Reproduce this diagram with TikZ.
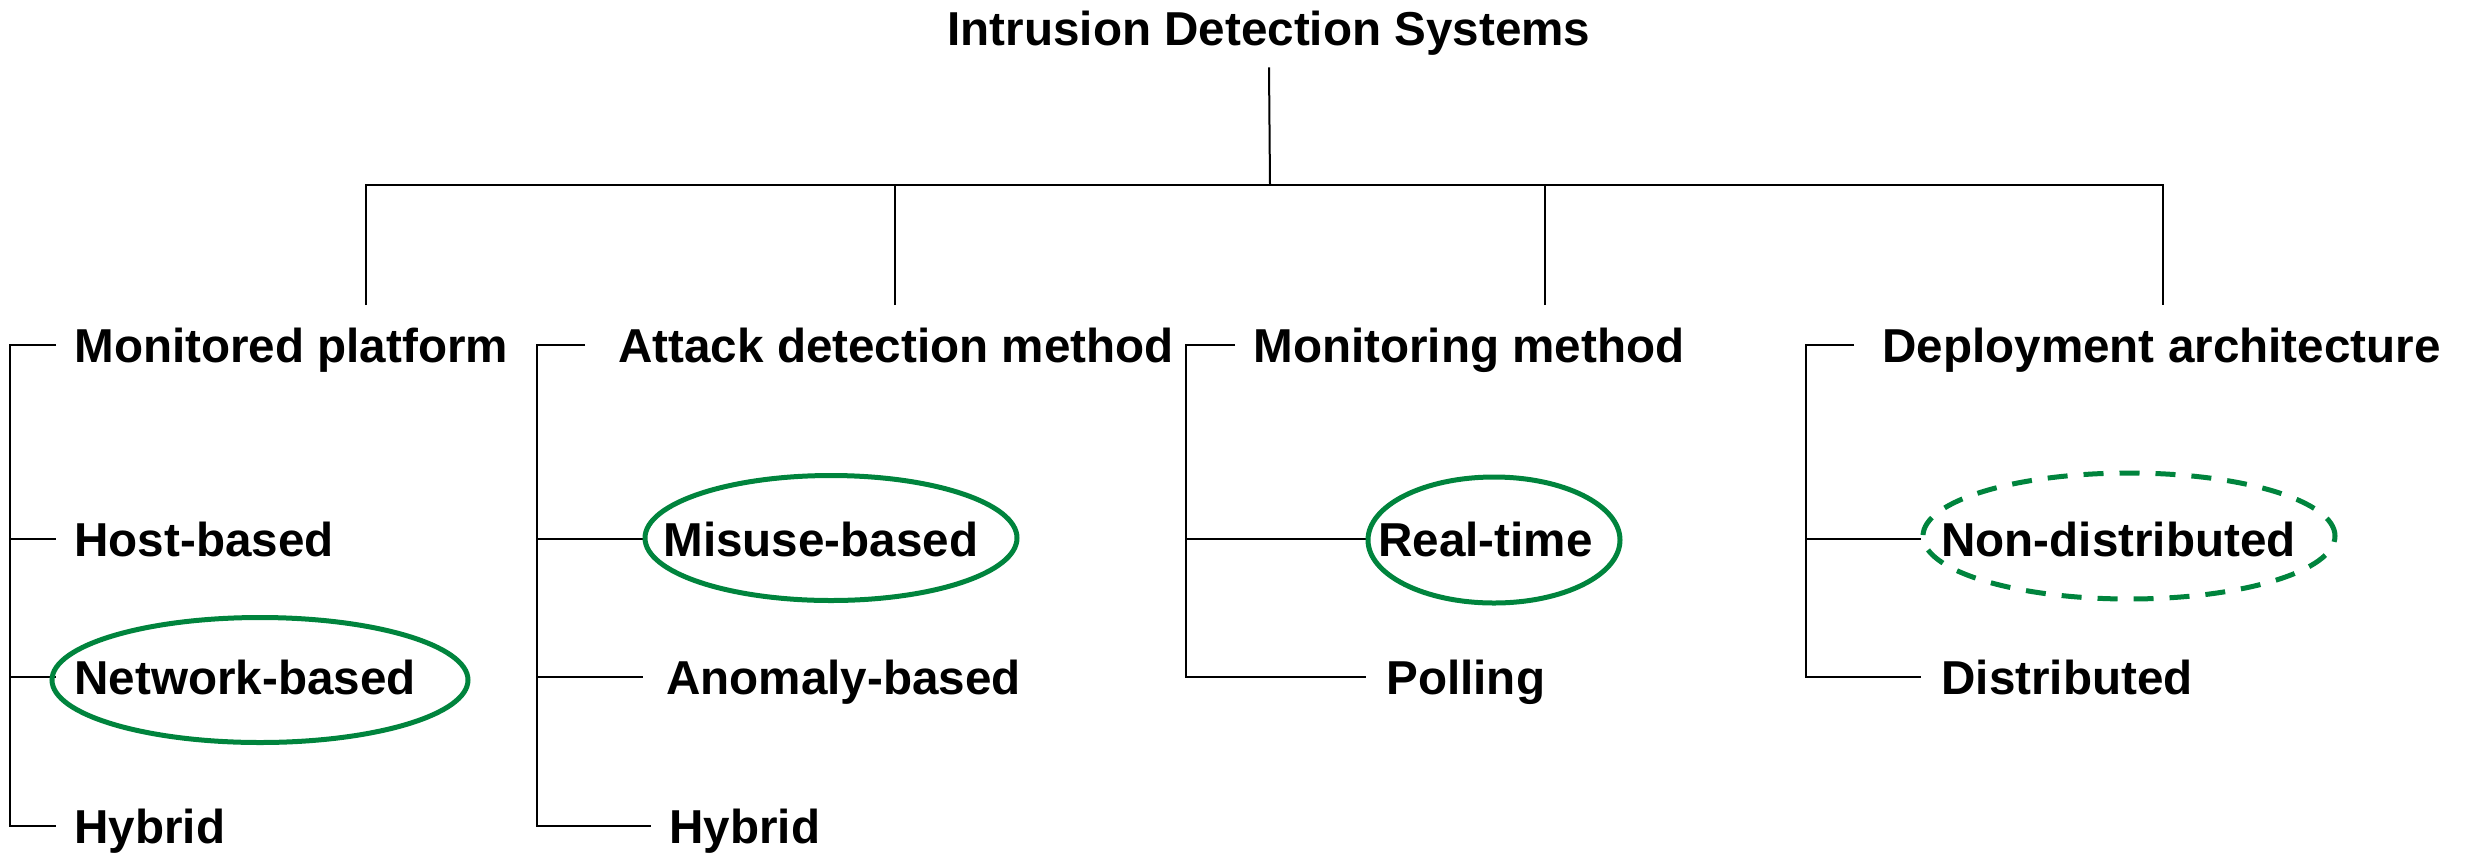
\documentclass[tikz,border=0pt]{standalone}
\usepackage{fontspec}
\setmainfont{Liberation Sans}
\usetikzlibrary{shapes.geometric}
\definecolor{idsgreen}{RGB}{0,132,61}

\begin{document}
\begin{tikzpicture}[x=0.5pt,y=-0.5pt,
  wire/.style={line width=1pt, draw=black},
  lbl/.style={font=\fontsize{23.8pt}{28pt}\selectfont\bfseries,
    text height=17pt, text depth=0pt, inner ysep=0pt, inner xsep=9pt, anchor=west},
  ring/.style={ellipse, draw=idsgreen, line width=2.5pt, inner sep=0pt},
  ringdash/.style={ring, dash pattern=on 10pt off 8pt}]
\useasboundingbox (0,0) rectangle (2475,853);

% root of the taxonomy
\node[lbl, anchor=center, inner xsep=0pt, inner ysep=11pt] (ids) at (1269,28) {Intrusion Detection Systems};
\coordinate (hub) at (1270,185);
\coordinate (d1) at (366,305);
\coordinate (d2) at (895,305);
\coordinate (d3) at (1545,305);
\coordinate (d4) at (2163,305);
\draw[wire] (ids.south) -- (hub);
\draw[wire] (d1) |- (hub) -| (d4);
\draw[wire] (d2) -- (d2 |- hub);
\draw[wire] (d3) -- (d3 |- hub);

% column 1: monitored platform
\coordinate (s1) at (10,345);
\node[lbl] (h1) at (56,345) {Monitored platform};
\node[lbl] (c1a) at (56,539) {Host-based};
\node[lbl] (c1b) at (56,677) {Network-based};
\node[lbl] (c1c) at (56,826) {Hybrid};
\draw[wire] (h1.west) -- (s1) |- (c1c.west);
\draw[wire] (s1 |- c1a.west) -- (c1a.west);
\draw[wire] (s1 |- c1b.west) -- (c1b.west);
\node[ring, minimum width=208pt, minimum height=62.5pt] (e1) at (260,680) {};

% column 2: attack detection method
\coordinate (s2) at (537,345);
\node[lbl, inner xsep=16.5pt] (h2) at (585,345) {Attack detection method};
\node[lbl, inner xsep=10pt] (c2a) at (643,539) {Misuse-based};
\node[lbl, inner xsep=11.5pt] (c2b) at (643,677) {Anomaly-based};
\node[lbl] (c2c) at (651,826) {Hybrid};
\draw[wire] (h2.west) -- (s2) |- (c2c.west);
\draw[wire] (s2 |- c2a.west) -- (c2a.west);
\draw[wire] (s2 |- c2b.west) -- (c2b.west);
\node[ring, minimum width=186pt, minimum height=62.5pt] (e2) at (831,538) {};

% column 3: monitoring method
\coordinate (s3) at (1186,345);
\node[lbl] (h3) at (1235,345) {Monitoring method};
\node[lbl, inner xsep=6pt] (c3a) at (1366,539) {Real-time};
\node[lbl, inner xsep=10pt] (c3b) at (1366,677) {Polling};
\draw[wire] (h3.west) -- (s3) |- (c3b.west);
\draw[wire] (s3 |- c3a.west) -- (c3a.west);
\node[ring, minimum width=126pt, minimum height=63pt] (e3) at (1494,540) {};

% column 4: deployment architecture
\coordinate (s4) at (1806,345);
\node[lbl, inner xsep=14pt] (h4) at (1854,345) {Deployment architecture};
\node[lbl, inner xsep=10pt] (c4a) at (1921,539) {Non-distributed};
\node[lbl, inner xsep=10pt] (c4b) at (1921,677) {Distributed};
\draw[wire] (h4.west) -- (s4) |- (c4b.west);
\draw[wire] (s4 |- c4a.west) -- (c4a.west);
\node[ringdash, minimum width=206pt, minimum height=63pt] (e4) at (2129,536) {};
\end{tikzpicture}
\end{document}
